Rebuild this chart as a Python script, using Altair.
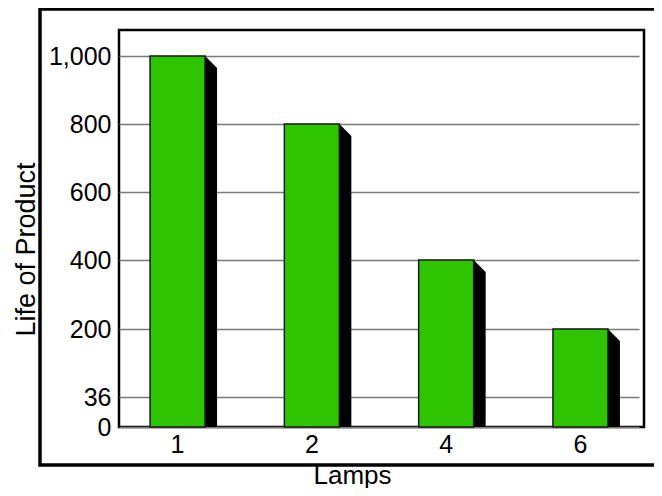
import altair as alt
import pandas as pd

# ---- data ----
lamps = ["1", "2", "4", "6"]
life = [1000, 800, 400, 200]
y_tick_values = [0, 36, 200, 400, 600, 800, 1000]
# the reference axis is not linear: labels are equally spaced except 0
y_domain = [0, 36, 200, 400, 600, 800, 1000, 1076]

df = pd.DataFrame({"Lamps": lamps, "Life": life})

W, H = 525, 397
FONT = "Liberation Sans"
GREEN = "#2fc400"

y_range = [397, 367, 299, 230, 162, 94, 26, 0]
y_scale = alt.Scale(domain=y_domain, range=y_range)
x_scale = alt.Scale(paddingInner=0.59, paddingOuter=0.231, range=[0, 520])

x_enc = alt.X(
    "Lamps:N",
    sort=lamps,
    scale=x_scale,
    axis=alt.Axis(
        title="Lamps",
        labelAngle=0,
        ticks=False,
        domain=False,
        labelFontSize=25,
        labelPadding=5,
        labelColor="black",
        labelFont=FONT,
        titleFont=FONT,
        titleFontSize=26,
        titleFontWeight="normal",
        titleColor="black",
        titleX=233,
        titleY=56,
        titleBaseline="alphabetic",
        titleAlign="center",
    ),
)
y_enc = alt.Y(
    "Life:Q",
    scale=y_scale,
    axis=alt.Axis(
        title="Life of Product",
        values=y_tick_values,
        format=",d",
        ticks=False,
        domain=False,
        grid=True,
        gridColor="#7a7a7a",
        gridWidth=1.5,
        labelFontSize=25,
        labelPadding=8,
        labelColor="black",
        labelFont=FONT,
        titleFont=FONT,
        titleFontSize=27,
        titleFontWeight="normal",
        titleColor="black",
        titleX=-85,
        titleY=219,
        titleBaseline="alphabetic",
        titleAlign="center",
        titleAngle=270,
    ),
)

base = alt.Chart(df)

side = base.mark_bar(width=12, xOffset=33.5, yOffset=12, color="black", clip=True).encode(
    x=x_enc, y=y_enc, y2=alt.datum(0)
)
corner = base.mark_point(
    shape="M-1,-1L1,1L-1,1Z", size=144, filled=True, color="black",
    opacity=1, strokeWidth=0, xOffset=33.5, yOffset=6,
).encode(x=x_enc, y=y_enc)
face = base.mark_bar(width=55, color=GREEN, stroke="#1a1a1a", strokeWidth=1.5).encode(
    x=x_enc, y=y_enc, y2=alt.datum(0)
)

frame = alt.Chart(alt.Data(values=[{}])).mark_rect(
    fill=None, stroke="black", strokeWidth=3.5, clip=False
).encode(
    x=alt.value(-79), x2=alt.value(W + 60), y=alt.value(-21), y2=alt.value(H + 38)
)

chart = (
    alt.layer(frame, side, corner, face)
    .properties(
        width=W,
        height=H,
        autosize=alt.AutoSizeParams(type="none"),
        padding={"left": 111, "top": 22, "right": 10, "bottom": 61},
        background="white",
    )
    .configure_view(stroke="black", strokeWidth=2.5)
)

chart.save("out.html", embed_options={"renderer": "svg", "actions": False})
